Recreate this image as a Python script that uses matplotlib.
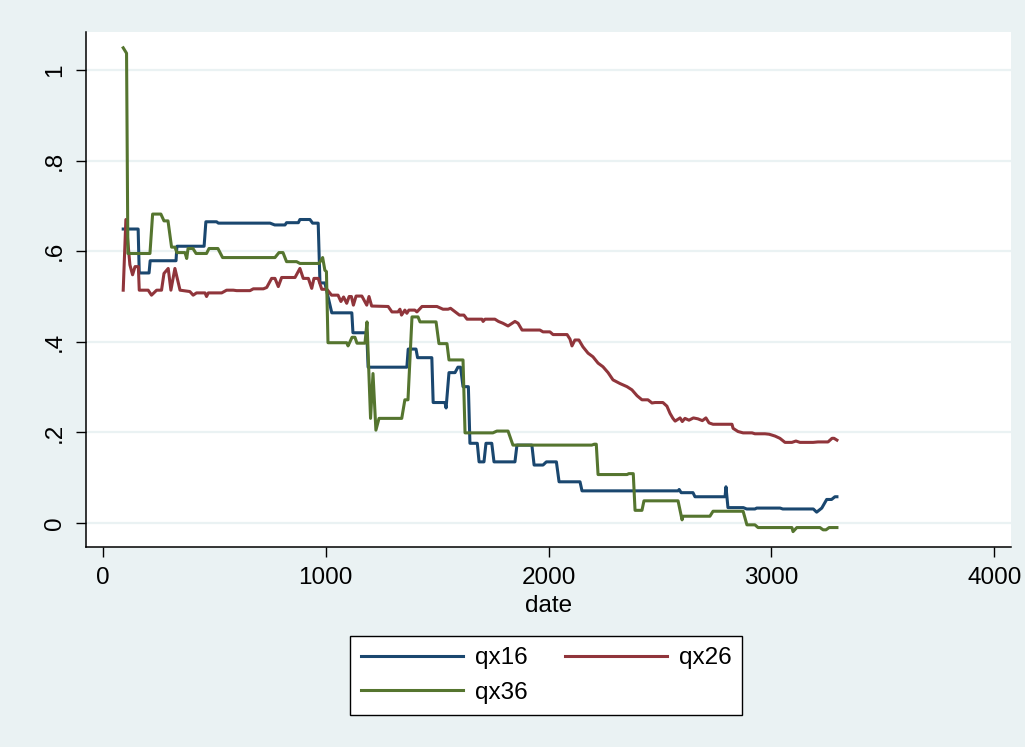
import matplotlib
matplotlib.use("Agg")
import matplotlib.pyplot as plt

plt.rcParams['font.family'] = ['Liberation Sans', 'DejaVu Sans']

# qx16 series (date, value)
qx16_date = [91, 158, 163, 207, 212, 328, 332, 454, 462, 510, 518, 750, 771, 817,
             824, 877, 884, 929, 941, 966, 974, 996, 1027, 1117, 1122, 1184, 1190,
             1364, 1370, 1405, 1412, 1476, 1482, 1535, 1540, 1553, 1580, 1593, 1605,
             1616, 1640, 1647, 1680, 1688, 1710, 1719, 1745, 1755, 1849, 1858, 1925,
             1935, 1975, 1990, 2035, 2047, 2141, 2150, 2581, 2586, 2595, 2648, 2657,
             2792, 2796, 2805, 2874, 2889, 2926, 2934, 3039, 3051, 3188, 3203, 3226,
             3248, 3270, 3285, 3294]
qx16 = [0.649, 0.649, 0.552, 0.552, 0.579, 0.579, 0.611, 0.611, 0.665, 0.665, 0.662,
        0.662, 0.658, 0.658, 0.663, 0.663, 0.670, 0.670, 0.662, 0.662, 0.530, 0.530,
        0.464, 0.464, 0.420, 0.420, 0.344, 0.344, 0.384, 0.384, 0.365, 0.365, 0.266,
        0.266, 0.254, 0.332, 0.332, 0.344, 0.344, 0.301, 0.301, 0.176, 0.176, 0.135,
        0.135, 0.176, 0.176, 0.135, 0.135, 0.172, 0.172, 0.128, 0.128, 0.135, 0.135,
        0.091, 0.091, 0.071, 0.071, 0.074, 0.067, 0.067, 0.058, 0.058, 0.080, 0.034,
        0.034, 0.031, 0.031, 0.033, 0.033, 0.031, 0.031, 0.024, 0.033, 0.052, 0.052,
        0.058, 0.058]

# qx26 series
qx26_date = [91, 103, 121, 133, 144, 159, 163, 203, 218, 241, 263, 274, 293, 305, 323,
             346, 390, 405, 420, 458, 465, 473, 533, 555, 585, 600, 660, 675, 720, 735,
             757, 772, 787, 802, 862, 884, 899, 922, 937, 947, 966, 982, 1005, 1026,
             1055, 1068, 1080, 1094, 1105, 1115, 1124, 1136, 1162, 1184, 1194, 1206,
             1280, 1297, 1324, 1333, 1340, 1355, 1364, 1373, 1400, 1409, 1432, 1499,
             1526, 1549, 1560, 1589, 1600, 1620, 1634, 1701, 1706, 1715, 1759, 1775,
             1795, 1818, 1849, 1863, 1881, 1961, 1975, 2006, 2020, 2083, 2096, 2105,
             2118, 2136, 2154, 2177, 2199, 2222, 2244, 2267, 2289, 2320, 2352, 2374,
             2397, 2419, 2446, 2464, 2478, 2513, 2531, 2545, 2558, 2568, 2590, 2600,
             2612, 2630, 2650, 2670, 2690, 2706, 2720, 2738, 2823, 2828, 2850, 2873,
             2913, 2926, 2971, 2990, 3016, 3038, 3061, 3092, 3110, 3128, 3187, 3209,
             3254, 3272, 3281, 3294]
qx26 = [0.514, 0.670, 0.570, 0.548, 0.566, 0.566, 0.514, 0.514, 0.503, 0.514, 0.514,
        0.551, 0.562, 0.514, 0.562, 0.514, 0.511, 0.503, 0.508, 0.508, 0.500, 0.508,
        0.508, 0.514, 0.514, 0.513, 0.513, 0.517, 0.517, 0.520, 0.540, 0.540, 0.522,
        0.542, 0.542, 0.562, 0.540, 0.540, 0.518, 0.540, 0.540, 0.516, 0.516, 0.503,
        0.503, 0.489, 0.499, 0.485, 0.500, 0.500, 0.481, 0.501, 0.501, 0.481, 0.500,
        0.479, 0.478, 0.466, 0.466, 0.472, 0.459, 0.470, 0.463, 0.470, 0.470, 0.466,
        0.478, 0.478, 0.472, 0.472, 0.474, 0.463, 0.459, 0.459, 0.450, 0.450, 0.445,
        0.450, 0.450, 0.445, 0.441, 0.435, 0.445, 0.441, 0.426, 0.426, 0.422, 0.422,
        0.416, 0.416, 0.406, 0.391, 0.404, 0.404, 0.389, 0.375, 0.367, 0.353, 0.345,
        0.332, 0.316, 0.308, 0.301, 0.294, 0.281, 0.272, 0.272, 0.265, 0.266, 0.266,
        0.258, 0.242, 0.231, 0.225, 0.232, 0.224, 0.231, 0.227, 0.232, 0.230, 0.226,
        0.232, 0.221, 0.218, 0.218, 0.209, 0.202, 0.199, 0.199, 0.197, 0.197, 0.196,
        0.192, 0.187, 0.178, 0.178, 0.181, 0.178, 0.178, 0.179, 0.179, 0.187, 0.187,
        0.183]

# qx36 series
qx36_date = [91, 106, 112, 211, 223, 260, 274, 292, 308, 323, 332, 368, 376, 382, 404,
             418, 465, 476, 516, 537, 772, 790, 808, 824, 869, 884, 970, 986, 996,
             1003, 1010, 1094, 1100, 1118, 1131, 1140, 1176, 1185, 1201, 1212, 1225,
             1239, 1341, 1355, 1369, 1387, 1414, 1423, 1495, 1508, 1544, 1553, 1616,
             1625, 1750, 1768, 1818, 1840, 2194, 2205, 2214, 2222, 2352, 2360, 2380,
             2388, 2419, 2428, 2581, 2599, 2603, 2724, 2738, 2873, 2890, 2926, 2940,
             3092, 3097, 3114, 3218, 3232, 3245, 3259, 3294]
qx36 = [1.049, 1.037, 0.595, 0.595, 0.682, 0.682, 0.667, 0.667, 0.609, 0.609, 0.597,
        0.597, 0.584, 0.606, 0.606, 0.595, 0.595, 0.606, 0.606, 0.586, 0.586, 0.597,
        0.597, 0.577, 0.577, 0.573, 0.573, 0.586, 0.558, 0.555, 0.398, 0.398, 0.391,
        0.410, 0.410, 0.397, 0.397, 0.444, 0.231, 0.330, 0.205, 0.231, 0.231, 0.272,
        0.272, 0.455, 0.455, 0.444, 0.444, 0.396, 0.396, 0.360, 0.360, 0.199, 0.199,
        0.203, 0.203, 0.172, 0.172, 0.174, 0.174, 0.107, 0.107, 0.109, 0.109, 0.028,
        0.028, 0.049, 0.049, 0.007, 0.015, 0.015, 0.026, 0.026, -0.004, -0.004, -0.010,
        -0.010, -0.019, -0.010, -0.010, -0.015, -0.015, -0.010, -0.010]

yticks = [0, 0.2, 0.4, 0.6, 0.8, 1.0]
ytick_labels = ['0', '.2', '.4', '.6', '.8', '1']
xticks = [0, 1000, 2000, 3000, 4000]

bg = '#EAF2F3'
fig = plt.figure(figsize=(10.25, 7.47), dpi=100, facecolor=bg)
ax = fig.add_axes([0.0839, 0.2677, 0.9024, 0.6895])
ax.set_facecolor('white')

for y in yticks:
    ax.axhline(y, color=bg, lw=1.6, zorder=0)

l16, = ax.plot(qx16_date, qx16, color='#1a476f', lw=2.2, label='qx16')
l26, = ax.plot(qx26_date, qx26, color='#90353b', lw=2.2, label='qx26')
l36, = ax.plot(qx36_date, qx36, color='#55752f', lw=2.2, label='qx36')

ax.set_xlim(-76, 4075)
ax.set_ylim(-0.053, 1.084)
ax.set_xticks(xticks)
ax.set_yticks(yticks)
ax.set_yticklabels(ytick_labels, rotation=90, va='center')
ax.tick_params(axis='both', direction='out', length=7.5, width=1.0,
               colors='black', labelsize=17.5, pad=7)
ax.spines['top'].set_visible(False)
ax.spines['right'].set_visible(False)
ax.spines['left'].set_linewidth(1.1)
ax.spines['bottom'].set_linewidth(1.1)
ax.set_xlabel('date', fontsize=17.5, labelpad=4)

# legend fills column-first, so order entries to read qx16 qx26 / qx36 row-wise
leg = fig.legend([l16, l36, l26], ['qx16', 'qx36', 'qx26'],
                 loc='center', bbox_to_anchor=(0.533, 0.0957), ncol=2,
                 fontsize=17.5, frameon=True, fancybox=False, edgecolor='black',
                 facecolor='white', framealpha=1.0,
                 handlelength=4.2, handletextpad=0.5, columnspacing=1.5,
                 labelspacing=0.5, borderpad=0.45)
leg.get_frame().set_linewidth(1.0)

fig.savefig('out.png', dpi=100, facecolor=bg)
